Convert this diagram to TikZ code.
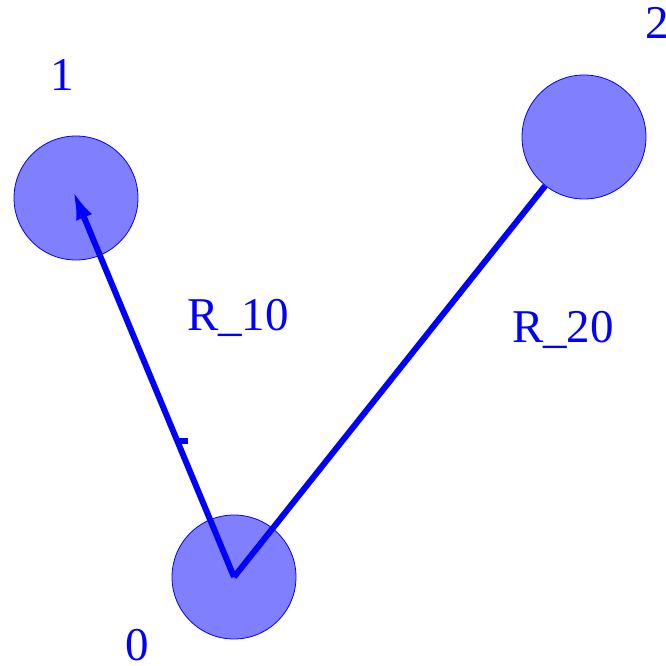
\documentclass[tikz,border=0pt]{standalone}
\usepackage{fontspec}
\setmainfont{Liberation Serif}
\usetikzlibrary{arrows.meta}

\begin{document}
\begin{tikzpicture}[x=1pt, y=1pt,
			kugel/.style={circle, draw=blue, fill=blue!50, line width=0.8pt, minimum size=124pt, inner sep=0pt},
			marke/.style={text=blue, font=\fontsize{47}{52}\selectfont},
			bahn/.style={draw=blue, line width=6pt},
			>={Latex[length=30pt,width=17pt]}]
			%Bildbereich
			\useasboundingbox (0,0) rectangle (666,665);
			%Kugeln zeichnen
			\node[kugel] (c0) at (234,88) {};
			\node[kugel] (c1) at (76,467) {};
			% Abstaende
			\draw[bahn,->,shorten >=-9pt] (c0.center) -- coordinate[pos=0.36] (m10) (c1.center);
			\draw[bahn] (m10) -- ++(11,0);
			\node[kugel] (c2) at (584,528) {};
			\draw[bahn] (c0.center) -- (c2);
			%Beschriftung
			\foreach \n/\pos in {0/{137,20}, 1/{62,590}, 2/{657,642}}
				\node[marke] (l\n) at (\pos) {\n};
			\node[marke] (r10) at (238,347) {R\_10};
			\node[marke] (r20) at (563,335) {R\_20};
		\end{tikzpicture}
\end{document}
